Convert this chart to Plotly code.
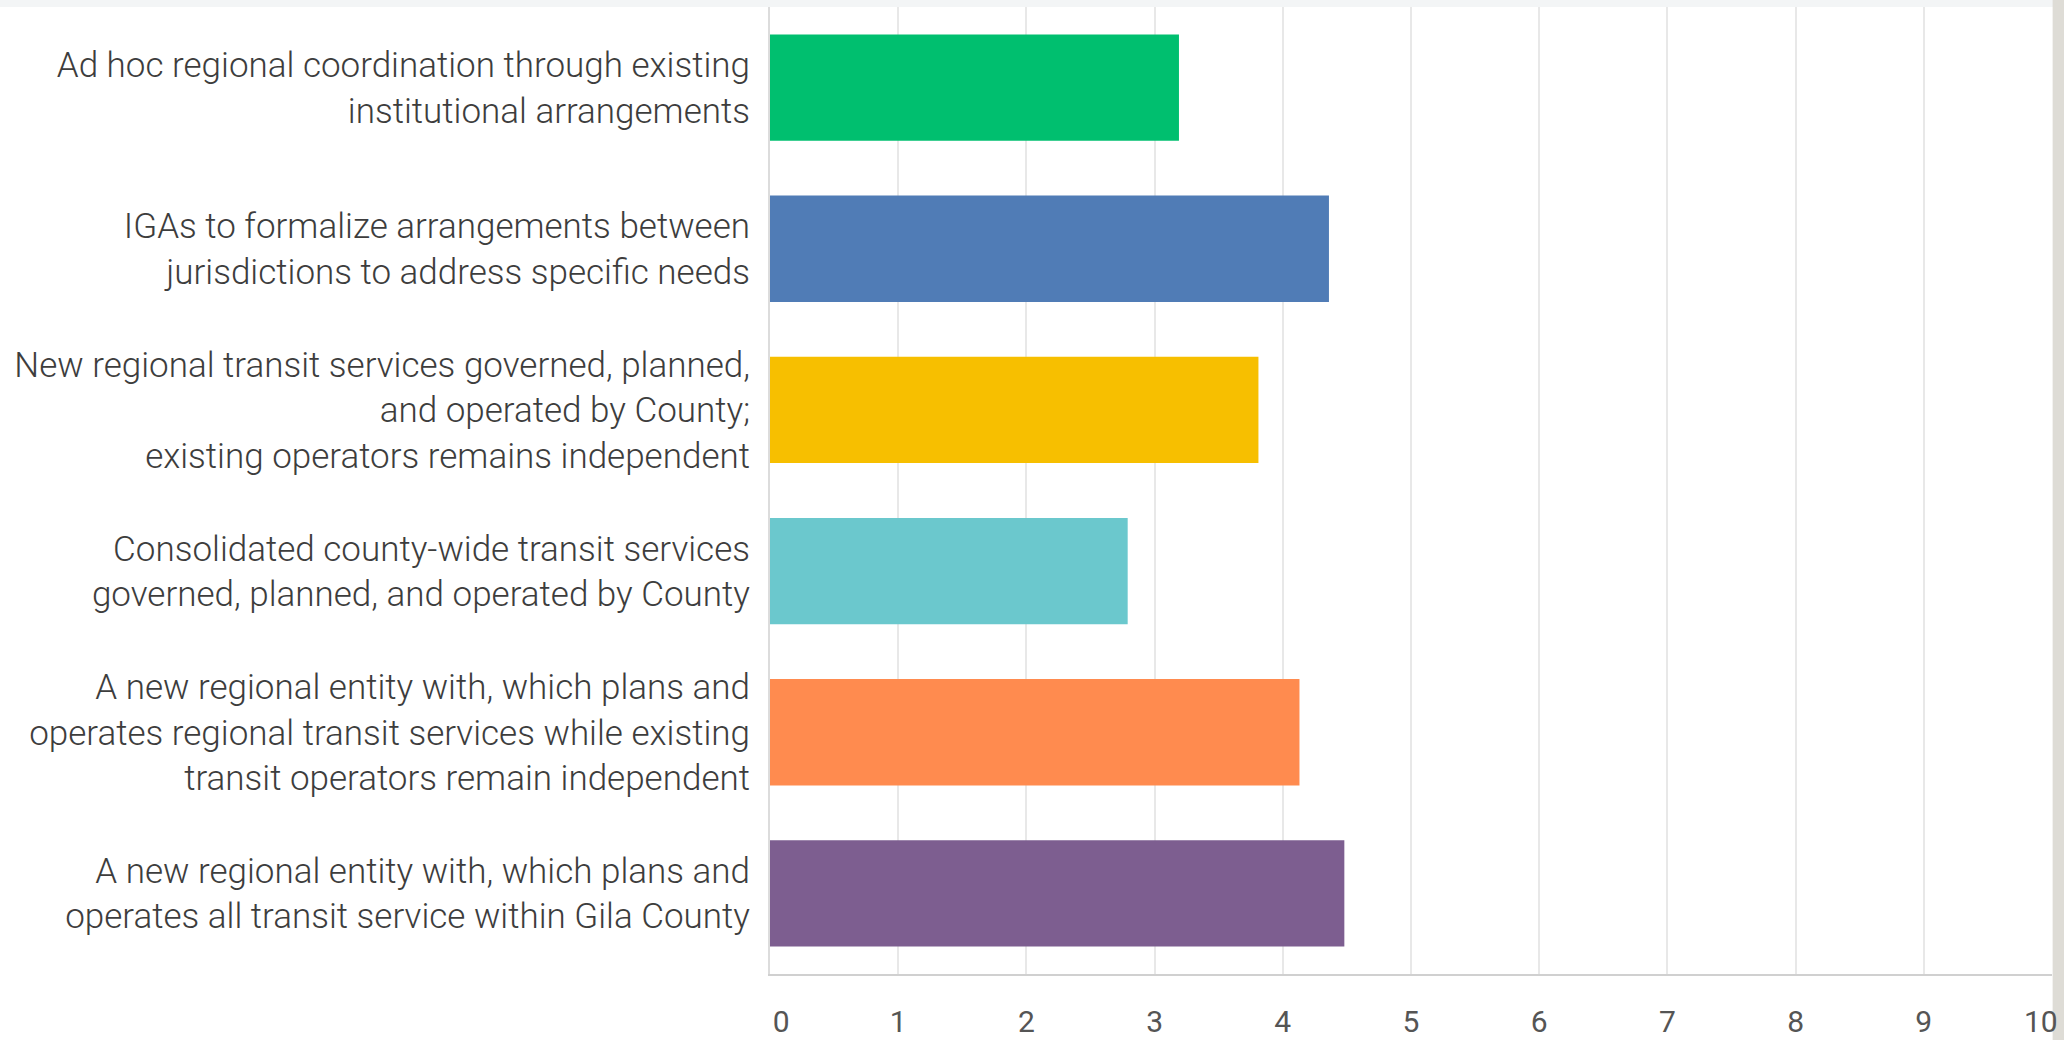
import plotly.graph_objects as go

categories = [
    "Ad hoc regional coordination through existing<br>institutional arrangements",
    "IGAs to formalize arrangements between<br>jurisdictions to address specific needs",
    "New regional transit services governed, planned,<br>and operated by County;<br>existing operators remains independent",
    "Consolidated county-wide transit services<br>governed, planned, and operated by County",
    "A new regional entity with, which plans and<br>operates regional transit services while existing<br>transit operators remain independent",
    "A new regional entity with, which plans and<br>operates all transit service within Gila County",
]
values = [3.19, 4.36, 3.81, 2.79, 4.13, 4.48]
colors = ["#00BF6F", "#507CB6", "#F7BF00", "#6BC8CD", "#FF8B4F", "#7D5E90"]
x_ticks = list(range(0, 11))
x_tick_text = ["\u00a0\u00a0\u00a00"] + [str(t) for t in x_ticks[1:-1]] + ["10\u00a0\u00a0\u00a0"]

fig = go.Figure(
    go.Bar(
        x=values,
        y=categories,
        orientation="h",
        marker=dict(color=colors, line=dict(width=0)),
        width=0.66,
    )
)

fig.update_layout(
    width=2064,
    height=1040,
    margin=dict(l=770, r=12, t=7, b=66, autoexpand=False),
    paper_bgcolor="white",
    plot_bgcolor="white",
    showlegend=False,
    shapes=[
        dict(type="rect", xref="paper", yref="paper", x0=-1, x1=1.01, y0=1.0, y1=1.02,
             fillcolor="#f3f5f6", line=dict(width=0), layer="below"),
        dict(type="rect", xref="paper", yref="paper", x0=1.0005, x1=1.02, y0=-0.1, y1=1.02,
             fillcolor="#dedcd6", line=dict(width=0), layer="below"),
    ],
)

fig.update_yaxes(
    autorange="reversed",
    automargin=False,
    tickfont=dict(family="Roboto", weight=300, size=35, color="#3d3d3d"),
    ticklabelstandoff=11,
    showline=True,
    linecolor="#dcdcdc",
    linewidth=2,
    showgrid=False,
    ticks="",
)

fig.update_xaxes(
    range=[0, 10],
    automargin=False,
    tickvals=x_ticks,
    ticktext=x_tick_text,
    tickfont=dict(family="Roboto", size=30, color="#555555"),
    ticklabeloverflow="allow",
    showgrid=True,
    gridcolor="#e8e8e8",
    gridwidth=2,
    showline=True,
    linecolor="#d0d0d0",
    linewidth=2,
    zeroline=False,
    ticks="",
    ticklabelstandoff=20,
)

fig.write_html("out.html")
